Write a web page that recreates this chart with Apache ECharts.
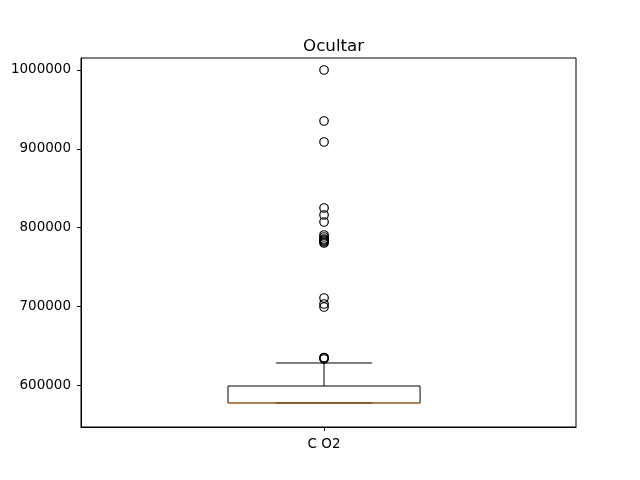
<!DOCTYPE html>
<html>
<head>
<meta charset="utf-8">
<script src="https://cdn.jsdelivr.net/npm/echarts@6/dist/echarts.min.js"></script>
<style>html,body{margin:0;padding:0;background:#fff;}#c{width:640px;height:480px;}</style>
</head>
<body>
<div id="c"></div>
<script>
const categories = ['C O2'];
const positions = [1];
// [lower whisker, Q1, median, Q3, upper whisker]
const boxStats = [[577143, 577143, 577143, 598730, 627937]];
const outliers = [1000000, 935238, 908571, 824762, 815873, 806984, 790476, 787937, 785397, 784127, 782857, 781587, 780317, 710476, 702857, 699048, 634920, 634286, 633016];
const yTicks = [600000, 700000, 800000, 900000, 1000000];
const yMin = 546667, yMax = 1015238;
const xMin = 0.509, xMax = 1.509;

const BOX_W = 0.388, CAP_W = 0.194;
const chart = echarts.init(document.getElementById('c'), null, {renderer: 'canvas'});
const font = 'DejaVu Sans';
chart.setOption({
  animation: false,
  backgroundColor: '#fff',
  title: {
    text: 'Ocultar', left: 298, top: 33,
    textStyle: {fontFamily: font, fontSize: 16.7, fontWeight: 'normal', color: '#000'}
  },
  grid: {left: 81, right: 64, top: 58, bottom: 53, show: true, borderColor: '#000', borderWidth: 1, backgroundColor: 'transparent'},
  xAxis: {
    type: 'value', min: xMin, max: xMax,
    axisLine: {show: true, onZero: false, lineStyle: {color: '#000', width: 1}},
    axisTick: {show: true, length: 4, lineStyle: {color: '#000'}, customValues: positions},
    axisLabel: {fontFamily: font, fontSize: 13.5, color: '#000', margin: 10, customValues: positions,
      formatter: v => categories[positions.indexOf(v)] ?? ''},
    splitLine: {show: false}
  },
  yAxis: {
    type: 'value', min: yMin, max: yMax,
    axisLine: {show: true, onZero: false, lineStyle: {color: '#000', width: 1}},
    axisTick: {show: true, length: 4, lineStyle: {color: '#000'}, customValues: yTicks},
    axisLabel: {fontFamily: font, fontSize: 13.5, color: '#000', margin: 10, customValues: yTicks,
      formatter: v => String(v)},
    splitLine: {show: false}
  },
  series: [
    {
      type: 'custom', z: 2,
      data: boxStats.map((s, i) => [positions[i]].concat(s)),
      renderItem: function (params, api) {
        const x = api.value(0);
        const lo = api.coord([x, api.value(1)]);
        const q1 = api.coord([x, api.value(2)]);
        const med = api.coord([x, api.value(3)]);
        const q3 = api.coord([x, api.value(4)]);
        const hi = api.coord([x, api.value(5)]);
        const bw = api.size([BOX_W, 0])[0];
        const cw = api.size([CAP_W, 0])[0];
        const cx = q1[0];
        const blk = {stroke: '#000', lineWidth: 1, fill: null};
        return {type: 'group', children: [
          {type: 'rect', shape: {x: cx - bw / 2, y: q3[1], width: bw, height: q1[1] - q3[1]}, style: {stroke: '#000', lineWidth: 1, fill: '#fff'}},
          {type: 'line', shape: {x1: cx, y1: q3[1], x2: cx, y2: hi[1]}, style: blk},
          {type: 'line', shape: {x1: cx, y1: q1[1], x2: cx, y2: lo[1]}, style: blk},
          {type: 'line', shape: {x1: cx - cw / 2, y1: hi[1], x2: cx + cw / 2, y2: hi[1]}, style: blk},
          {type: 'line', shape: {x1: cx - cw / 2, y1: lo[1], x2: cx + cw / 2, y2: lo[1]}, style: blk},
          {type: 'line', shape: {x1: cx - bw / 2, y1: med[1], x2: cx + bw / 2, y2: med[1]}, style: {stroke: '#ff7f0e', lineWidth: 1, opacity: 0.85}}
        ]};
      }
    },
    {
      type: 'scatter', data: outliers.map(v => [positions[0], v]), symbol: 'circle', symbolSize: 8.5,
      itemStyle: {color: 'transparent', borderColor: '#000', borderWidth: 1.2, opacity: 1},
      z: 4
    }
  ]
});
</script>
</body>
</html>
